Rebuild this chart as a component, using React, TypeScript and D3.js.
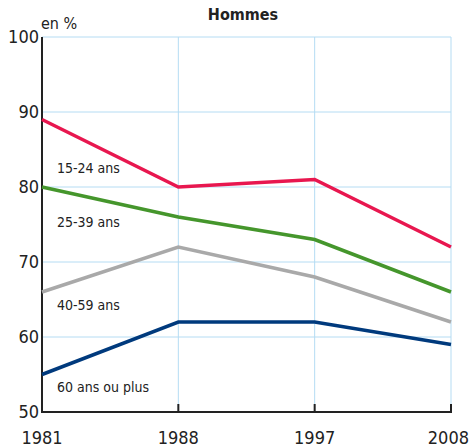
import React from 'react'
import * as d3 from 'd3'

const years = ['1981', '1988', '1997', '2008']
const yTicks = [50, 60, 70, 80, 90, 100]

const ages15to24 = [89, 80, 81, 72]
const ages25to39 = [80, 76, 73, 66]
const ages40to59 = [66, 72, 68, 62]
const ages60plus = [55, 62, 62, 59]

const seriesNames = ['15-24 ans', '25-39 ans', '40-59 ans', '60 ans ou plus']
const seriesColors = ['#e8174f', '#45962c', '#a9a9a9', '#003a7d']
// y value (in %) where each series label sits
const labelLevels = [82.5, 75.3, 64.3, 53.3]

const width = 469
const height = 447
const margin = { top: 37, right: 18, bottom: 35, left: 42 }
const font = "'Liberation Sans Narrow', 'DejaVu Sans Condensed', 'Roboto', sans-serif"

export default function App () {
  const series = [ages15to24, ages25to39, ages40to59, ages60plus]

  const x = d3.scalePoint<string>()
    .domain(years)
    .range([margin.left, width - margin.right])

  const y = d3.scaleLinear()
    .domain([50, 100])
    .range([height - margin.bottom, margin.top])

  const line = d3.line<number>()
    .x((d, i) => x(years[i]) as number)
    .y((d) => y(d))

  const x0 = margin.left
  const x1 = width - margin.right
  const yBottom = y(50)

  return (
    <svg width={width} height={height} style={{ position: 'absolute', left: 0, top: 0, background: '#fff' }}>
      {/* grid */}
      <g stroke='#b5dcf3' strokeWidth={1}>
        {yTicks.slice(1).map((t) => (
          <line key={t} x1={x0} x2={x1} y1={y(t)} y2={y(t)} />
        ))}
        {years.slice(1).map((yr) => (
          <line key={yr} x1={x(yr)} x2={x(yr)} y1={y(100)} y2={yBottom} />
        ))}
      </g>

      {/* axes */}
      <line x1={x0} x2={x0} y1={y(100)} y2={yBottom} stroke='#222' strokeWidth={2} />
      <line x1={x0 - 1} x2={x1 + 1} y1={yBottom} y2={yBottom} stroke='#222' strokeWidth={2} />
      {years.slice(1).map((yr) => (
        <line key={yr} x1={x(yr)} x2={x(yr)} y1={yBottom - 8} y2={yBottom} stroke='#222' strokeWidth={2} />
      ))}

      {/* tick labels */}
      <g fontFamily={font} fontSize={18} fill='#222'>
        {yTicks.map((t) => (
          <text key={t} x={x0 - 3} y={y(t)} dy='0.35em' textAnchor='end'>{t}</text>
        ))}
        {years.map((yr, i) => (
          <text key={yr} x={x(yr)} y={yBottom + 32}
            textAnchor={i === years.length - 1 ? 'end' : 'middle'}
            dx={i === years.length - 1 ? 18 : 0}>{yr}</text>
        ))}
      </g>

      <text x={x0 - 1} y={29} fontFamily={font} fontSize={16} fill='#222'>en %</text>
      <text x={243} y={20} fontFamily={font} fontSize={16} fontWeight='bold' fill='#222' textAnchor='middle'>Hommes</text>

      {/* lines */}
      {series.map((s, i) => (
        <path key={seriesNames[i]} d={line(s) || ''} fill='none'
          stroke={seriesColors[i]} strokeWidth={3.5} strokeLinejoin='miter' />
      ))}

      {/* series labels */}
      {seriesNames.map((name, i) => (
        <text key={name} x={x0 + 15} y={y(labelLevels[i])} dy='0.35em'
          fontFamily={font} fontSize={14} fill='#222'>{name}</text>
      ))}
    </svg>
  )
}
